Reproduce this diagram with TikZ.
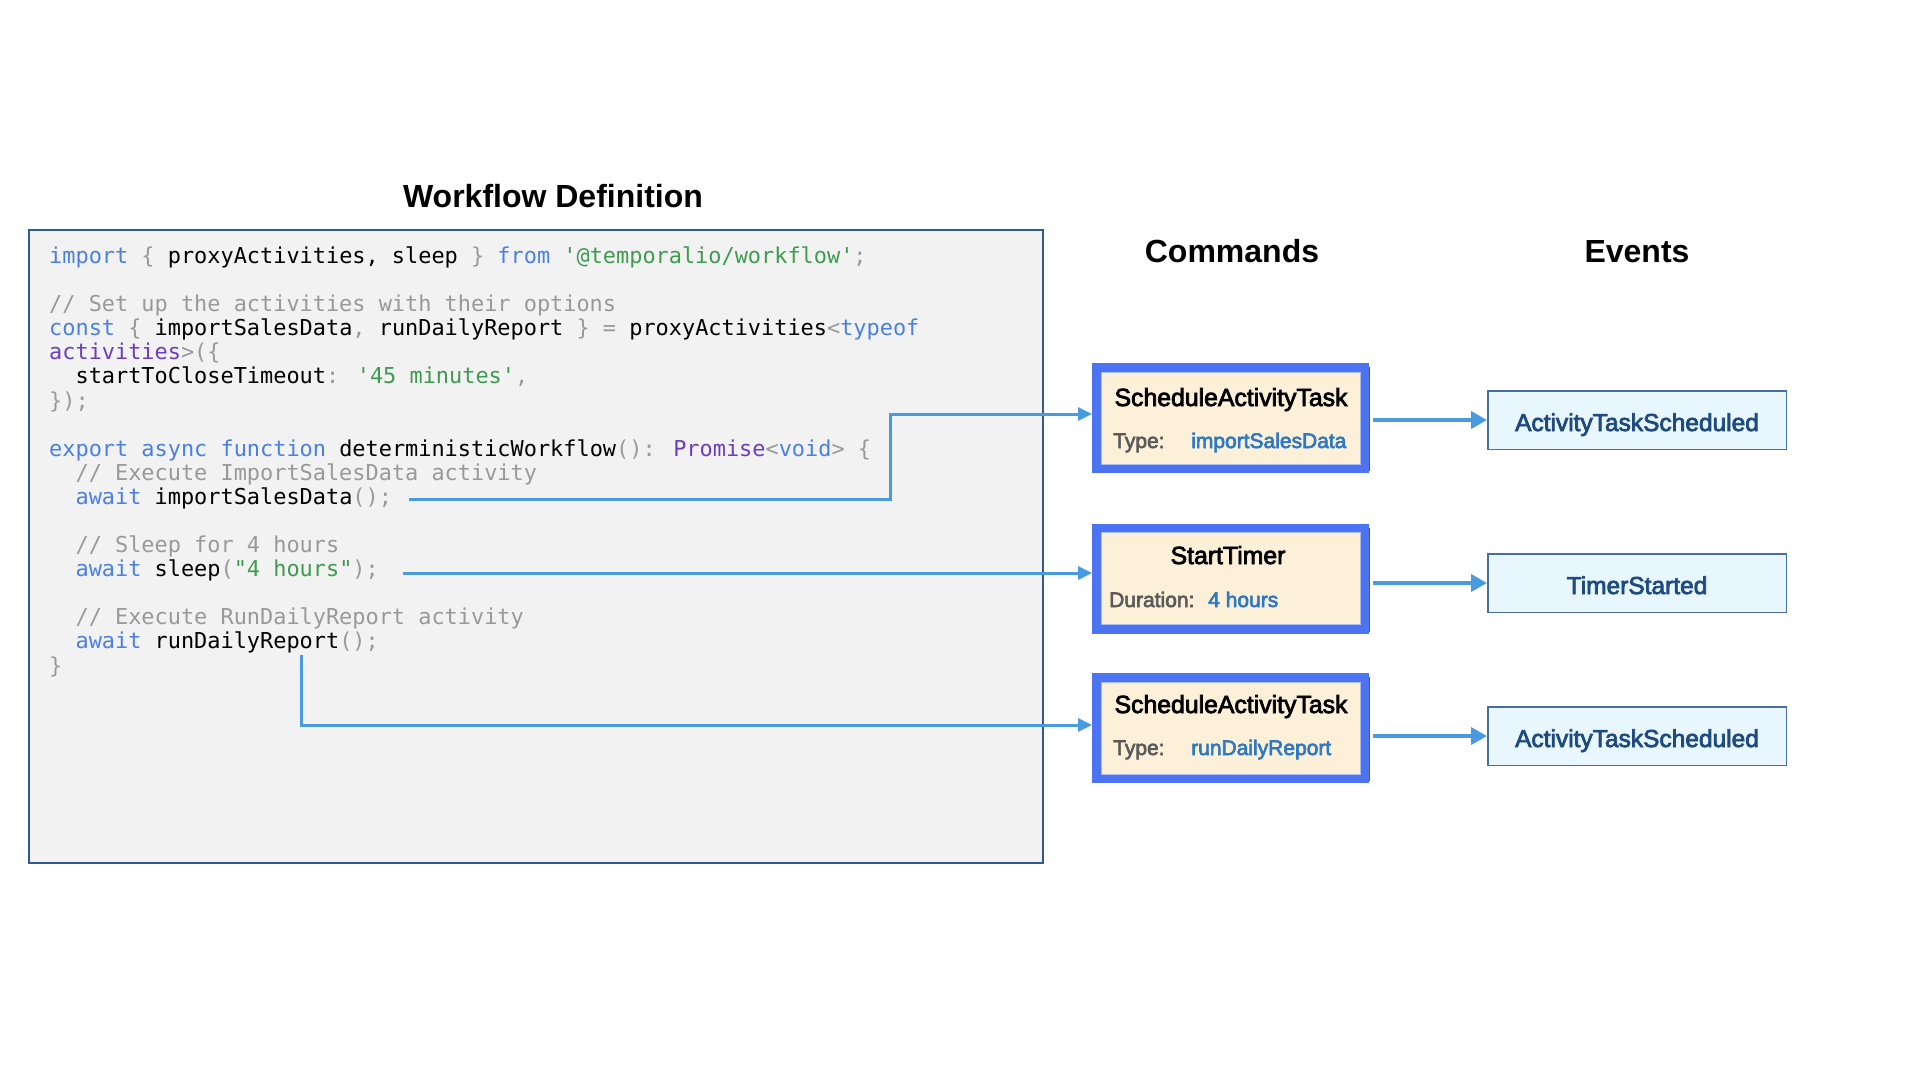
\documentclass[tikz,border=0pt]{standalone}
\usepackage{fontspec}
\setmainfont{Liberation Sans}
\newfontfamily\codefont{DejaVu Sans Mono}
\newfontfamily\medf[FakeBold=3]{Liberation Sans}
\usetikzlibrary{arrows.meta}
\definecolor{kwc}{HTML}{4A80E4}
\definecolor{puc}{HTML}{6A3FBF}
\definecolor{stc}{HTML}{3E9B4F}
\definecolor{grc}{HTML}{999999}
\definecolor{idc}{HTML}{000000}
\definecolor{codebg}{HTML}{F2F2F2}
\definecolor{codeframe}{RGB}{47,90,145}
\definecolor{connc}{RGB}{72,155,224}
\definecolor{cmdborder}{RGB}{76,116,242}
\definecolor{cmdfill}{HTML}{FCF1D8}
\definecolor{cmdinner}{RGB}{170,190,246}
\definecolor{cmdshadow}{RGB}{55,85,190}
\definecolor{evfill}{HTML}{E8F6FE}
\definecolor{evborder}{RGB}{70,110,160}
\definecolor{evtext}{RGB}{30,74,125}
\definecolor{labgray}{HTML}{5A5A5A}
\definecolor{valblue}{RGB}{46,120,196}
\newcommand\ckw[1]{\textcolor{kwc}{#1}}
\newcommand\cpu[1]{\textcolor{puc}{#1}}
\newcommand\cst[1]{\textcolor{stc}{#1}}
\newcommand\cgr[1]{\textcolor{grc}{#1}}
\newcommand\ind{\phantom{xx}}
\begin{document}
\begin{tikzpicture}[x=1pt,y=-1pt,
  titletext/.style={anchor=base,inner sep=0,font=\fontsize{32}{38}\selectfont\bfseries},
  codeline/.style={anchor=base west,inner sep=0,text=idc,font=\codefont\fontsize{21.9}{24}\selectfont},
  codebox/.style={draw=codeframe,fill=codebg,line width=2,minimum width=1014,minimum height=633,inner sep=0},
  cmdbox/.style={draw=cmdborder,fill=cmdfill,line width=9,minimum width=268,minimum height=101,inner sep=0},
  evbox/.style={draw=evborder,fill=evfill,line width=1.5,minimum width=298.5,minimum height=58.5,inner sep=0,
    text height=22pt,text depth=0pt,text=evtext,font=\medf\fontsize{24.5}{28}\selectfont},
  cmdtitle/.style={anchor=base,inner sep=0,font=\medf\fontsize{24.8}{28}\selectfont},
  lab/.style={anchor=base west,inner sep=0,text=labgray,font=\medf\fontsize{21}{24}\selectfont},
  val/.style={anchor=base west,inner sep=0,text=valblue,font=\medf\fontsize{21}{24}\selectfont},
  codeconn/.style={draw=connc,line width=3,-{Triangle[length=14pt,width=13pt]}},
  outconn/.style={draw=connc,line width=3.8,shorten <=4pt,-{Triangle[length=16pt,width=17pt]}}
]
\useasboundingbox (0,0) rectangle (1920,1080);
\fill[white] (0,0) rectangle (1920,1080);

% titles
\node[titletext] (wfdef) at (553,207) {Workflow Definition};
\node[titletext] (cmdhead) at (1232,262) {Commands};
\node[titletext] (evhead) at (1637,262) {Events};

% code frame
\node[codebox] (code) at (536,546.5) {};

% code lines
\node[codeline] (l0) at (49,263) {\ckw{import} \cgr{\{} proxyActivities, sleep \cgr{\}} \ckw{from} \cst{\textquotesingle @temporalio/workflow\textquotesingle}\cgr{;}};
\node[codeline] (l2) at (49,311.5) {\cgr{// Set up the activities with their options}};
\node[codeline] (l3) at (49,335.5) {\ckw{const} \cgr{\{} importSalesData\cgr{,} runDailyReport \cgr{\}} \cgr{=} proxyActivities\cgr{<}\ckw{typeof}};
\node[codeline] (l4) at (49,359.5) {\cpu{activities}\cgr{>(\{}};
\node[codeline] (l5) at (49,383.5) {\ind startToCloseTimeout\cgr{:} \cst{\textquotesingle 45 minutes\textquotesingle}\cgr{,}};
\node[codeline] (l6) at (49,408) {\cgr{\});}};
\node[codeline] (l8) at (49,456) {\ckw{export async function} deterministicWorkflow\cgr{():} \cpu{Promise}\cgr{<}\ckw{void}\cgr{> \{}};
\node[codeline] (l9) at (49,480) {\ind\cgr{// Execute ImportSalesData activity}};
\node[codeline] (l10) at (49,504) {\ind\ckw{await} importSalesData\cgr{();}};
\node[codeline] (l12) at (49,552.5) {\ind\cgr{// Sleep for 4 hours}};
\node[codeline] (l13) at (49,576.5) {\ind\ckw{await} sleep\cgr{(}\cst{\textquotedbl 4 hours\textquotedbl}\cgr{);}};
\node[codeline] (l15) at (49,624.5) {\ind\cgr{// Execute RunDailyReport activity}};
\node[codeline] (l16) at (49,648.5) {\ind\ckw{await} runDailyReport\cgr{();}};
\node[codeline] (l17) at (49,673) {\cgr{\}}};

% command boxes
\node[cmdbox] (cmd1) at (1230.5,418) {};
\node[cmdbox] (cmd2) at (1230.5,578.5) {};
\node[cmdbox] (cmd3) at (1230.5,728) {};
\foreach \n in {cmd1,cmd2,cmd3}{
  \draw[cmdinner,line width=1] ([xshift=9pt,yshift=-9pt]\n.north west) rectangle ([xshift=-9pt,yshift=9pt]\n.south east);
  \draw[cmdshadow,line width=1.4] ([xshift=0.7pt,yshift=-4pt]\n.north east) -- ([xshift=0.7pt,yshift=2pt]\n.south east);
}
\node[cmdtitle] (t1) at (1231,406) {ScheduleActivityTask};
\node[lab] (k1) at (1113,448) {Type:};
\node[val] (v1) at (1191,448) {importSalesData};
\node[cmdtitle] (t2) at (1228,564) {StartTimer};
\node[lab] (k2) at (1109,607) {Duration:};
\node[val] (v2) at (1208,607) {4 hours};
\node[cmdtitle] (t3) at (1231,713) {ScheduleActivityTask};
\node[lab] (k3) at (1113,755) {Type:};
\node[val] (v3) at (1191,755) {runDailyReport};

% event boxes
\node[evbox] (ev1) at (1637,420) {ActivityTaskScheduled};
\node[evbox] (ev2) at (1637,583) {TimerStarted};
\node[evbox] (ev3) at (1637,736) {ActivityTaskScheduled};

% connectors from code
\coordinate (c1) at (409,499);
\coordinate (b1) at (890,414);
\coordinate (c2) at (403,573);
\coordinate (c3) at (301,655);
\draw[codeconn] (c1) -| (b1) -- (b1 -| cmd1.west);
\draw[codeconn] (c2) -- (c2 -| cmd2.west);
\draw[codeconn] (c3) |- ([yshift=3pt]cmd3.west);

% commands to events
\draw[outconn] (cmd1.east |- ev1.west) -- (ev1.west);
\draw[outconn] (cmd2.east |- ev2.west) -- (ev2.west);
\draw[outconn] (cmd3.east |- ev3.west) -- (ev3.west);
\end{tikzpicture}
\end{document}
